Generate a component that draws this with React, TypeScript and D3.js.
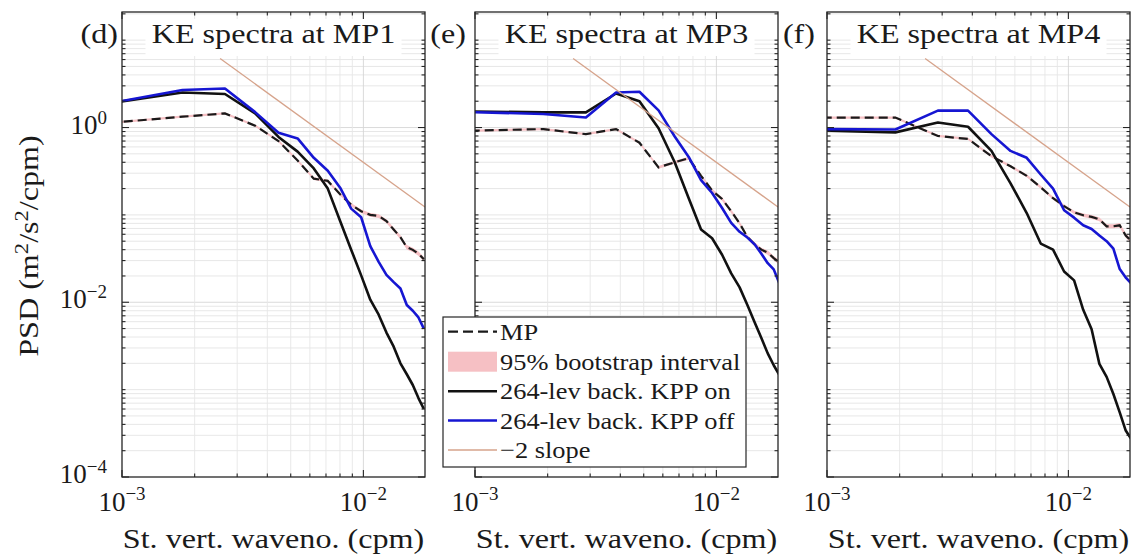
import React from "react";
import * as d3 from "d3";

// ---------- data ----------
const kP1 = [0.00089, 0.00178, 0.00267, 0.00356, 0.00445, 0.00534, 0.00623, 0.00712, 0.00801, 0.0089, 0.00979, 0.01068, 0.01157, 0.01246, 0.01335, 0.01424, 0.01513, 0.01602, 0.01691, 0.0178];
const kP23 = [0.00096, 0.00192, 0.00288, 0.00384, 0.0048, 0.00576, 0.00672, 0.00768, 0.00864, 0.0096, 0.01056, 0.01152, 0.01248, 0.01344, 0.0144, 0.01536, 0.01632, 0.01728, 0.01824];

const mpP1 = [1.13, 1.33, 1.45, 1.05, 0.7, 0.42, 0.26, 0.245, 0.172, 0.131, 0.11, 0.1, 0.097, 0.085, 0.068, 0.0555, 0.0426, 0.0398, 0.036, 0.031];
const onP1 = [1.9, 2.52, 2.42, 1.45, 0.78, 0.53, 0.34, 0.2, 0.085, 0.04, 0.0203, 0.0107, 0.0072, 0.0045, 0.0031, 0.002, 0.0015, 0.00113, 0.0008, 0.0006];
const offP1 = [1.9, 2.69, 2.8, 1.5, 0.87, 0.75, 0.45, 0.32, 0.205, 0.118, 0.094, 0.044, 0.029, 0.0206, 0.017, 0.0144, 0.0093, 0.008, 0.0067, 0.005];
const ciP1 = [1.03, 1.03, 1.03, 1.03, 1.035, 1.035, 1.04, 1.04, 1.04, 1.045, 1.045, 1.05, 1.05, 1.05, 1.055, 1.055, 1.06, 1.06, 1.06, 1.06];

const mpP2 = [0.92, 0.96, 0.84, 0.96, 0.67, 0.35, 0.4, 0.445, 0.28, 0.19, 0.152, 0.11, 0.08, 0.056, 0.046, 0.04, 0.037, 0.032, 0.0285];
const onP2 = [1.53, 1.49, 1.49, 2.45, 2.0, 0.98, 0.4, 0.155, 0.068, 0.054, 0.035, 0.0214, 0.0148, 0.0093, 0.0059, 0.0039, 0.0026, 0.0019, 0.00147];
const offP2 = [1.5, 1.43, 1.3, 2.52, 2.57, 1.57, 0.79, 0.46, 0.25, 0.178, 0.12, 0.081, 0.064, 0.055, 0.046, 0.036, 0.028, 0.0238, 0.0164];
const ciP2 = [1.03, 1.03, 1.03, 1.03, 1.035, 1.035, 1.04, 1.04, 1.04, 1.045, 1.045, 1.05, 1.05, 1.05, 1.055, 1.055, 1.06, 1.06, 1.06];

const mpP3 = [1.3, 1.3, 0.8, 0.74, 0.47, 0.36, 0.28, 0.207, 0.155, 0.126, 0.107, 0.099, 0.095, 0.089, 0.074, 0.074, 0.076, 0.058, 0.05];
const onP3 = [0.92, 0.88, 1.14, 1.02, 0.54, 0.23, 0.105, 0.047, 0.04, 0.0225, 0.0178, 0.0082, 0.0049, 0.00197, 0.0014, 0.00089, 0.00055, 0.00034, 0.00027];
const offP3 = [0.96, 0.95, 1.56, 1.56, 0.84, 0.54, 0.45, 0.29, 0.2, 0.113, 0.093, 0.076, 0.069, 0.058, 0.05, 0.041, 0.024, 0.0192, 0.0164];
const ciP3 = [1.03, 1.03, 1.03, 1.03, 1.035, 1.035, 1.04, 1.04, 1.04, 1.045, 1.045, 1.05, 1.05, 1.05, 1.055, 1.055, 1.06, 1.06, 1.06];

const slopeK = [0.00255, 0.018];
const slopePsd = [6.16, 0.1232];

const panelTags = ["(d)", "(e)", "(f)"];
const panelTitles = ["KE spectra at MP1", "KE spectra at MP3", "KE spectra at MP4"];

const xTickValues = [1e-3, 1e-2];
const xTickExp = ["−3", "−2"];
const yTickValues = [1e-4, 1e-2, 1];
const yTickExp = ["−4", "−2", "0"];

const legendLabels = ["MP", "95% bootstrap interval", "264-lev back. KPP on", "264-lev back. KPP off", "−2 slope"];

const panels = [
  { k: kP1, mp: mpP1, on: onP1, off: offP1, ci: ciP1 },
  { k: kP23, mp: mpP2, on: onP2, off: offP2, ci: ciP2 },
  { k: kP23, mp: mpP3, on: onP3, off: offP3, ci: ciP3 },
];

// ---------- layout / style ----------
const W = 1132;
const H = 559;
const FONT = '"Liberation Serif", "Times New Roman", serif';
const TXT = "#1a1a1a";
const AXIS = "#262626";
const BLUE = "#1616d2";
const BLACK = "#111111";
const PINK = "#f6c0c4";
const TAN = "#d6a38b";
const panelLeft = [122, 475, 827];
const panelW = 303;
const top = 12;
const bottom = 477;
const xDomain: [number, number] = [1e-3, 0.018];
const yDomain: [number, number] = [1e-4, 21];

const near = (a: number, b: number) => Math.abs(Math.log10(a) - Math.log10(b)) < 1e-6;

function SText(props: any) {
  const { x, y, size, sx = 1, anchor = "start", rot = 0, children } = props;
  return (
    <g transform={`translate(${x},${y}) rotate(${rot}) scale(${sx},1)`}>
      <text x={0} y={0} fontSize={size} fontFamily={FONT} textAnchor={anchor} fill={TXT}>
        {children}
      </text>
    </g>
  );
}

function Panel({ idx }: { idx: number }) {
  const p = panels[idx];
  const x0 = panelLeft[idx];
  const x1 = x0 + panelW;
  const cx = (x0 + x1) / 2;
  const x = d3.scaleLog().domain(xDomain).range([x0, x1]);
  const y = d3.scaleLog().domain(yDomain).range([bottom, top]);
  const xt = x.ticks();
  const yt = y.ticks();
  const xIsMajor = (v: number) => xTickValues.some((m) => near(m, v));
  const yIsMajor = (v: number) => yTickValues.some((m) => near(m, v));

  const line = d3
    .line<number>()
    .x((_, i) => x(p.k[i]))
    .y((d) => y(d));
  const area = d3
    .area<number>()
    .x((_, i) => x(p.k[i]))
    .y0((d, i) => y(d / p.ci[i]))
    .y1((d, i) => y(d * p.ci[i]));
  const slopeLine = d3
    .line<number>()
    .x((_, i) => x(slopeK[i]))
    .y((d) => y(d));

  const clipId = `clip-${idx}`;
  const majLen = 7;
  const minLen = 3.5;

  return (
    <g>
      <defs>
        <clipPath id={clipId}>
          <rect x={x0} y={top} width={panelW} height={bottom - top} />
        </clipPath>
      </defs>
      <rect x={x0} y={top} width={panelW} height={bottom - top} fill="#fff" />
      {/* grid */}
      <g>
        {yt
          .filter((v) => !near(v, yDomain[0]) && y(v) > top + 0.5)
          .map((v, i) => (
            <line key={"gy" + i} x1={x0} x2={x1} y1={y(v)} y2={y(v)} stroke={yIsMajor(v) ? "#d6d6d6" : "#e4e4e4"} strokeWidth={0.9} />
          ))}
        {xt
          .filter((v) => !near(v, xDomain[0]))
          .map((v, i) => (
            <line key={"gx" + i} x1={x(v)} x2={x(v)} y1={top} y2={bottom} stroke={xIsMajor(v) ? "#d6d6d6" : "#e6e6e6"} strokeWidth={0.9} />
          ))}
      </g>
      {/* title background + title */}
      <rect x={cx - 128} y={19} width={256} height={37} fill="#fff" />
      <SText x={cx} y={43} size={27} sx={1.19} anchor="middle">
        {panelTitles[idx]}
      </SText>
      {/* data */}
      <g clipPath={`url(#${clipId})`}>
        <path d={area(p.mp) || ""} fill={PINK} stroke="none" />
        <path d={line(p.mp) || ""} fill="none" stroke="#1a1a1a" strokeWidth={2.2} strokeDasharray="9 5" />
        <path d={line(p.on) || ""} fill="none" stroke={BLACK} strokeWidth={2.6} strokeLinejoin="round" />
        <path d={line(p.off) || ""} fill="none" stroke={BLUE} strokeWidth={2.6} strokeLinejoin="round" />
        <path d={slopeLine(slopePsd) || ""} fill="none" stroke={TAN} strokeWidth={1.3} />
      </g>
      {/* axes box */}
      <rect x={x0} y={top} width={panelW} height={bottom - top} fill="none" stroke={AXIS} strokeWidth={1.3} />
      {/* x ticks (bottom & top, inward) */}
      {xt.map((v, i) => {
        const len = xIsMajor(v) ? majLen : minLen;
        const px = x(v);
        return (
          <g key={"xt" + i}>
            <line x1={px} x2={px} y1={bottom} y2={bottom - len} stroke={AXIS} strokeWidth={1.1} />
            <line x1={px} x2={px} y1={top} y2={top + len} stroke={AXIS} strokeWidth={1.1} />
          </g>
        );
      })}
      {/* y ticks (left & right, inward) */}
      {yt
        .filter((v) => y(v) >= top - 0.5)
        .map((v, i) => {
          const len = yIsMajor(v) ? majLen : minLen;
          const py = y(v);
          return (
            <g key={"yt" + i}>
              <line x1={x0} x2={x0 + len} y1={py} y2={py} stroke={AXIS} strokeWidth={1.1} />
              <line x1={x1} x2={x1 - len} y1={py} y2={py} stroke={AXIS} strokeWidth={1.1} />
            </g>
          );
        })}
      {/* x tick labels */}
      {xTickValues.map((v, i) => (
        <SText key={"xl" + i} x={x(v)} y={511} size={27} anchor="middle">
          <tspan>10</tspan>
          <tspan fontSize={19} dy={-11}>
            {xTickExp[i]}
          </tspan>
        </SText>
      ))}
      {/* y tick labels only on first panel */}
      {idx === 0 &&
        yTickValues.map((v, i) => (
          <SText key={"yl" + i} x={107} y={y(v) + 6} size={27} anchor="end">
            <tspan>10</tspan>
            <tspan fontSize={19} dy={-10}>
              {yTickExp[i]}
            </tspan>
          </SText>
        ))}
      {/* panel tag */}
      <SText x={[118, 466, 815][idx]} y={43} size={27} sx={1.19} anchor="end">
        {panelTags[idx]}
      </SText>
      {/* x label */}
      <SText x={cx} y={548} size={27} sx={1.19} anchor="middle">
        St. vert. waveno. (cpm)
      </SText>
    </g>
  );
}

function Legend() {
  const lx = 443;
  const ly = 317;
  const lw = 303;
  const lh = 150;
  const rows = [331.7, 361.7, 391.2, 420.5, 450];
  const s0 = 448;
  const s1 = 497;
  return (
    <g>
      <rect x={lx} y={ly} width={lw} height={lh} fill="#fff" stroke={AXIS} strokeWidth={1.2} />
      <line x1={s0} x2={s1} y1={rows[0]} y2={rows[0]} stroke="#1a1a1a" strokeWidth={2.2} strokeDasharray="10 5" />
      <rect x={s0} y={rows[1] - 10} width={s1 - s0} height={20} fill={PINK} />
      <line x1={s0} x2={s1} y1={rows[2]} y2={rows[2]} stroke={BLACK} strokeWidth={2.6} />
      <line x1={s0} x2={s1} y1={rows[3]} y2={rows[3]} stroke={BLUE} strokeWidth={2.6} />
      <line x1={s0} x2={s1} y1={rows[4]} y2={rows[4]} stroke={TAN} strokeWidth={1.3} />
      {legendLabels.map((t, i) => (
        <SText key={i} x={500} y={rows[i] + 8} size={24} sx={1.1}>
          {t}
        </SText>
      ))}
    </g>
  );
}

export default function App() {
  return (
    <svg width={W} height={H} viewBox={`0 0 ${W} ${H}`} style={{ position: "absolute", left: 0, top: 0, background: "#fff" }}>
      <rect x={0} y={0} width={W} height={H} fill="#fff" />
      {[0, 1, 2].map((i) => (
        <Panel key={i} idx={i} />
      ))}
      <Legend />
      <SText x={38} y={246} size={27} sx={1.19} anchor="middle" rot={-90}>
        <tspan>PSD (m</tspan>
        <tspan fontSize={19} dy={-10}>
          2
        </tspan>
        <tspan dy={10}>/s</tspan>
        <tspan fontSize={19} dy={-10}>
          2
        </tspan>
        <tspan dy={10}>/cpm)</tspan>
      </SText>
    </svg>
  );
}
